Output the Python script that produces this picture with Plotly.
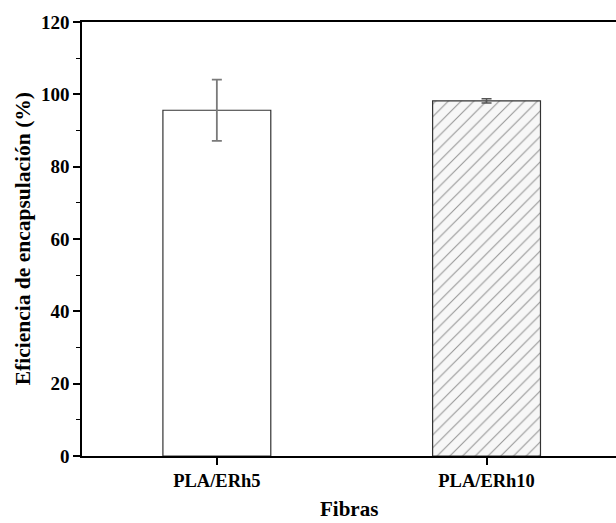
import plotly.graph_objects as go

categories = ["PLA/ERh5", "PLA/ERh10"]
values = [95.6, 98.2]
errors = [8.45, 0.6]
y_ticks = [0, 20, 40, 60, 80, 100, 120]

font_family = "Liberation Serif, Times New Roman, serif"

fig = go.Figure()
fig.add_trace(go.Bar(
    x=[categories[0]], y=[values[0]],
    width=0.4,
    marker=dict(color="white", line=dict(color="#333333", width=1.2)),
    error_y=dict(type="data", array=[errors[0]], color="#7a7a7a", thickness=1.8, width=5),
    showlegend=False,
))
fig.add_trace(go.Bar(
    x=[categories[1]], y=[values[1]],
    width=0.4,
    marker=dict(color="white", line=dict(color="#333333", width=1.2),
                pattern=dict(shape="/", size=9, solidity=0.12, fgcolor="#333333", bgcolor="#f7f7f7")),
    error_y=dict(type="data", array=[errors[1]], color="#555555", thickness=1.5, width=5),
    showlegend=False,
))

fig.update_layout(
    width=616, height=523,
    margin=dict(l=82, r=0, t=22, b=67),
    paper_bgcolor="white", plot_bgcolor="white",
    font=dict(family=font_family, color="black"),
    bargap=0.6,
    annotations=[
        dict(text="<b>Eficiencia de encapsulación (%)</b>", textangle=-90,
             xref="paper", yref="paper", x=-0.11, y=0.5,
             xanchor="center", yanchor="middle", showarrow=False,
             font=dict(size=21.5, family=font_family, color="black")),
        dict(text="<b>Fibras</b>",
             xref="paper", yref="paper", x=0.5, y=-0.122,
             xanchor="center", yanchor="middle", showarrow=False,
             font=dict(size=21, family=font_family, color="black")),
    ],
)
fig.update_xaxes(
    range=[-0.5, 1.48], automargin=False,
    showline=True, linecolor="black", linewidth=1.6, mirror=True,
    ticks="outside", ticklen=7, tickwidth=1.6, tickcolor="black",
    tickfont=dict(size=18.5, family=font_family, weight="bold"),
    showgrid=False, zeroline=False,
)
fig.update_yaxes(
    range=[0, 120], automargin=False, mirror=False,
    tickvals=y_ticks,
    showline=True, linecolor="black", linewidth=1.6,
    ticks="outside", ticklen=7, tickwidth=1.6, tickcolor="black",
    minor=dict(dtick=10, ticks="outside", ticklen=4, tickwidth=1.4, tickcolor="black", showgrid=False),
    tickfont=dict(size=19, family=font_family, weight="bold"),
    showgrid=False, zeroline=False,
)

fig.write_html(
    "out.html",
    config={"displayModeBar": False},
    post_script="document.body.style.margin='0';document.body.style.overflow='hidden';",
)
